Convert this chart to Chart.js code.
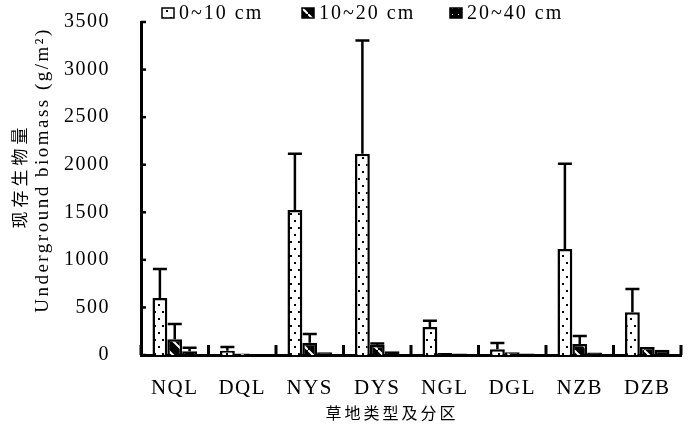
<!DOCTYPE html>
<html>
<head>
<meta charset="utf-8">
<script src="https://cdn.jsdelivr.net/npm/chart.js@4"></script>
<style>
  body { margin: 0; background: #fff; }
  canvas { display: block; }
</style>
</head>
<body>
<canvas id="grafico" width="691" height="434"></canvas>
<script>
/* ================= DADOS ================= */
const categorias = ["NQL", "DQL", "NYS", "DYS", "NGL", "DGL", "NZB", "DZB"];
const rotulos = ["0~10 cm", "10~20 cm", "20~40 cm"];

const prof0_10 = [600, 45, 1525, 2115, 295, 60, 1115, 450];
const erro0_10 = [305, 40, 590, 1190, 65, 65, 895, 245];

const prof10_20 = [165, 15, 130, 105, 20, 30, 115, 85];
const erro10_20 = [160, 0, 90, 15, 0, 0, 85, 0];

const prof20_40 = [40, 10, 30, 40, 15, 15, 25, 55];
const erro20_40 = [35, 0, 0, 0, 0, 0, 0, 0];

const ticksY = [0, 500, 1000, 1500, 2000, 2500, 3000, 3500];

const erros = [erro0_10, erro10_20, erro20_40];

/* ================= PADRÕES ================= */
const canvas = document.getElementById("grafico");
const ctxBase = canvas.getContext("2d");

function criarPadrao(w, h, desenhar) {
  const c = document.createElement("canvas");
  c.width = w;
  c.height = h;
  desenhar(c.getContext("2d"));
  return ctxBase.createPattern(c, "repeat");
}

// pontilhado (0~10 cm)
const padraoPontos = criarPadrao(8, 14, g => {
  g.fillStyle = "#fff";
  g.fillRect(0, 0, 8, 14);
  g.fillStyle = "#000";
  g.fillRect(2, 3, 2, 2);
  g.fillRect(6, 10, 2, 2);
});

// preto com diagonal branca (10~20 cm)
const padraoDiagonal = criarPadrao(14, 14, g => {
  g.fillStyle = "#000";
  g.fillRect(0, 0, 14, 14);
  g.strokeStyle = "#fff";
  g.lineWidth = 2;
  g.beginPath();
  g.moveTo(-2, -2);
  g.lineTo(16, 16);
  g.stroke();
});

// preto com pontos brancos (20~40 cm)
const padraoSalpicado = criarPadrao(6, 6, g => {
  g.fillStyle = "#000";
  g.fillRect(0, 0, 6, 6);
  g.fillStyle = "#fff";
  g.fillRect(2, 2, 1, 1);
});

const padroes = [padraoPontos, padraoDiagonal, padraoSalpicado];

/* ================= PLUGIN: EIXOS, ERROS, LEGENDA ================= */
const fonteSerif = '"Liberation Serif", "Times New Roman", serif';

const pluginExtras = {
  id: "extras",
  beforeUpdate(chart) {
    chart.ctx.letterSpacing = "1.5px";
  },
  afterDatasetsDraw(chart) {
    const ctx = chart.ctx;
    const y = chart.scales.y;
    ctx.save();
    ctx.strokeStyle = "#000";
    ctx.lineWidth = 2.5;
    chart.data.datasets.forEach((ds, di) => {
      const meta = chart.getDatasetMeta(di);
      meta.data.forEach((barra, i) => {
        const e = erros[di][i];
        if (!e) return;
        const topo = y.getPixelForValue(ds.data[i] + e);
        ctx.beginPath();
        ctx.moveTo(barra.x, barra.y);
        ctx.lineTo(barra.x, topo);
        ctx.moveTo(barra.x - 7, topo);
        ctx.lineTo(barra.x + 7, topo);
        ctx.stroke();
      });
    });
    ctx.restore();
  },
  afterDraw(chart) {
    const ctx = chart.ctx;
    const a = chart.chartArea;
    const y = chart.scales.y;
    ctx.save();
    ctx.strokeStyle = "#000";
    ctx.fillStyle = "#000";
    ctx.lineWidth = 2.5;

    // marcas internas do eixo Y
    ticksY.forEach(v => {
      const py = y.getPixelForValue(v);
      ctx.beginPath();
      ctx.moveTo(a.left, py);
      ctx.lineTo(a.left + 5, py);
      ctx.stroke();
    });

    // marcas entre categorias
    const passo = (a.right - a.left) / categorias.length;
    for (let i = 0; i <= categorias.length; i++) {
      const px = a.left + passo * i;
      ctx.fillRect(px - 1.5, a.bottom - 10, 3, 10);
    }

    // legenda
    const posLegenda = [162, 302, 450];
    ctx.font = "20px " + fonteSerif;
    ctx.letterSpacing = "2px";
    ctx.textBaseline = "middle";
    ctx.textAlign = "left";
    rotulos.forEach((r, i) => {
      const bx = posLegenda[i];
      ctx.fillStyle = padroes[i];
      ctx.fillRect(bx, 8, 12, 10);
      ctx.lineWidth = 1.5;
      ctx.strokeRect(bx, 8, 12, 10);
      ctx.fillStyle = "#000";
      ctx.fillText(r, bx + 17, 14);
    });

    // título do eixo Y (duas linhas)
    ctx.textAlign = "center";
    ctx.save();
    ctx.translate(20, 176);
    ctx.rotate(-Math.PI / 2);
    ctx.font = '17px "Noto Sans CJK SC", sans-serif';
    ctx.letterSpacing = "4px";
    ctx.fillText("现存生物量", 0, 0);
    ctx.restore();

    ctx.save();
    ctx.translate(43, 170);
    ctx.rotate(-Math.PI / 2);
    ctx.font = "19px " + fonteSerif;
    ctx.letterSpacing = "2.5px";
    ctx.fillText("Underground biomass (g/m²)", 0, 0);
    ctx.restore();

    // título do eixo X
    ctx.font = '16px "Noto Sans CJK SC", sans-serif';
    ctx.letterSpacing = "3px";
    ctx.fillText("草地类型及分区", 392, 413);

    ctx.restore();
  }
};

/* ================= GRÁFICO ================= */
new Chart(canvas, {
  type: "bar",
  data: {
    labels: categorias,
    datasets: [prof0_10, prof10_20, prof20_40].map((valores, i) => ({
      label: rotulos[i],
      data: valores,
      backgroundColor: padroes[i],
      borderColor: "#000",
      borderWidth: 2.5,
      barPercentage: 1.0,
      categoryPercentage: 0.66
    }))
  },
  options: {
    responsive: false,
    animation: false,
    layout: { padding: { left: 0, top: 22, right: 10, bottom: 0 } },
    plugins: {
      legend: { display: false },
      tooltip: { enabled: false }
    },
    scales: {
      x: {
        offset: true,
        grid: { display: false, drawTicks: false },
        border: { color: "#000", width: 3 },
        ticks: {
          color: "#000",
          padding: 21,
          font: { family: fonteSerif, size: 21 }
        },
        afterFit: s => {
          s.height = 79;
          s.paddingLeft = 0;
          s.paddingRight = 0;
        }
      },
      y: {
        min: 0,
        max: 3500,
        grid: { display: false, drawTicks: false },
        border: { color: "#000", width: 3 },
        ticks: {
          color: "#000",
          padding: 31,
          stepSize: 500,
          font: { family: fonteSerif, size: 20 },
          callback: v => String(v)
        },
        afterFit: s => {
          s.width = 141;
          s.paddingTop = 0;
          s.paddingBottom = 0;
        }
      }
    }
  },
  plugins: [pluginExtras]
});
</script>
</body>
</html>
